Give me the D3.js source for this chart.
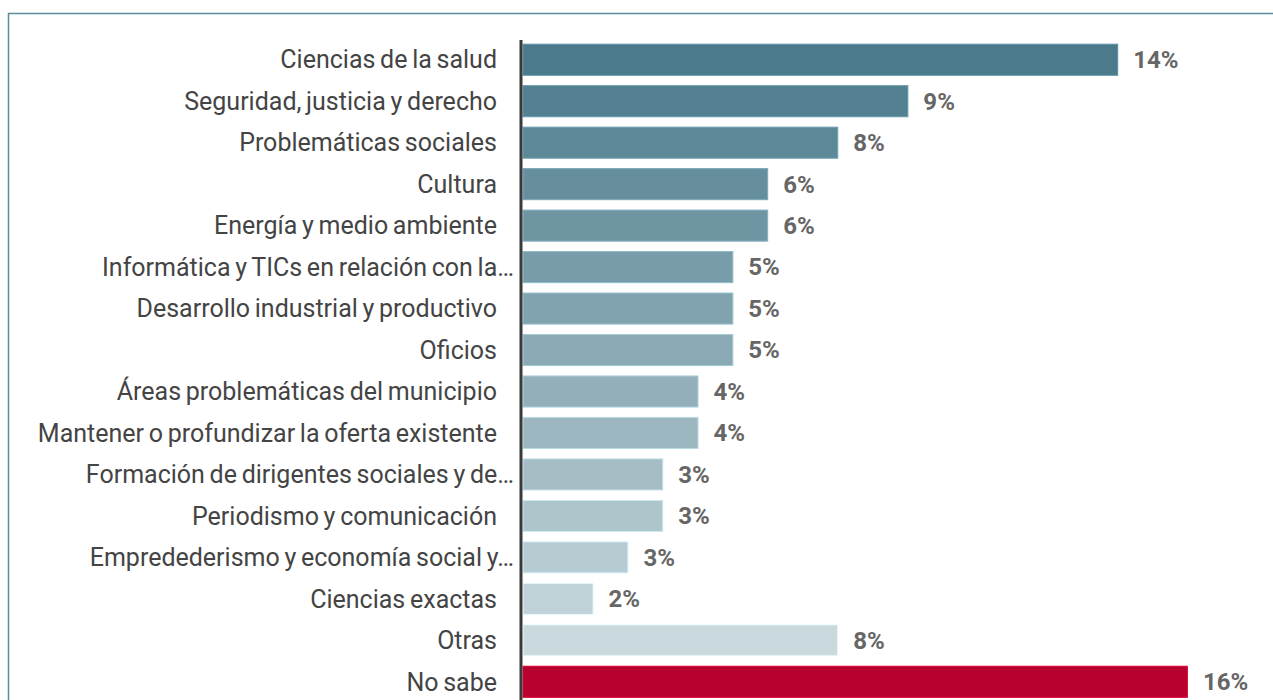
<!DOCTYPE html>
<html>
<head>
<meta charset="utf-8">
<script src="https://cdn.jsdelivr.net/npm/d3@7"></script>
<style>
  body { margin: 0; background: #fff; }
  text { font-family: Roboto, "Noto Sans", sans-serif; }
</style>
</head>
<body>
<script>
// categories, top to bottom
const categories = [
    "Ciencias de la salud",
    "Seguridad, justicia y derecho",
    "Problemáticas sociales",
    "Cultura",
    "Energía y medio ambiente",
    "Informática y TICs en relación con la…",
    "Desarrollo industrial y productivo",
    "Oficios",
    "Áreas problemáticas del municipio",
    "Mantener o profundizar la oferta existente",
    "Formación de dirigentes sociales y de…",
    "Periodismo y comunicación",
    "Empredederismo y economía social y…",
    "Ciencias exactas",
    "Otras",
    "No sabe"
]
// share of answers, in percent
const values = [14.17, 9.17, 7.5, 5.83, 5.83, 5.0, 5.0, 5.0, 4.17, 4.17, 3.33, 3.33, 2.5, 1.67, 7.5, 15.83]

const width = 1273, height = 700

const svg = d3.select("body").append("svg")
    .attr("width", width)
    .attr("height", height)

// frame (only top and left edges are visible)
svg.append("path")
    .attr("d", "M8.5,700 V13.5 H1273")
    .attr("fill", "none")
    .attr("stroke", "#5a8c9c")
    .attr("stroke-width", 1.5)

const x = d3.scaleLinear()
    .domain([0, 16])
    .range([523, 523 + 16 * 41.97])

const y = d3.scaleBand()
    .domain(categories)
    .range([39, 39 + 41.47 * categories.length])
    .paddingInner(0.25)
    .paddingOuter(0.125)

const shade = d3.scaleLinear()
    .domain([0, categories.length - 2])
    .range(["#4b7a8b", "#c9d9de"])
    .interpolate(d3.interpolateRgb)

const color = (d, i) => d === "No sabe" ? "#b8002e" : shade(i)

svg.selectAll("rect.bar")
    .data(categories)
    .enter().append("rect")
    .attr("class", "bar")
    .attr("x", x(0))
    .attr("y", d => y(d))
    .attr("width", (d, i) => x(values[i]) - x(0))
    .attr("height", y.bandwidth())
    .attr("fill", color)
    .attr("stroke", (d, i) => d3.color(color(d, i)).brighter(0.5))
    .attr("stroke-width", 1)

// category labels
svg.selectAll("text.cat")
    .data(categories)
    .enter().append("text")
    .attr("class", "cat")
    .attr("x", d => d.endsWith("…") ? 514 : 497)
    .attr("y", d => y(d) + y.bandwidth() / 2)
    .attr("dy", "0.35em")
    .attr("text-anchor", "end")
    .attr("font-size", 25)
    .attr("word-spacing", -1.5)
    .attr("fill", "#444")
    .text(d => d)

// value labels
svg.selectAll("text.val")
    .data(categories)
    .enter().append("text")
    .attr("class", "val")
    .attr("x", (d, i) => x(values[i]) + 15.5)
    .attr("y", d => y(d) + y.bandwidth() / 2)
    .attr("dy", "0.35em")
    .attr("font-size", 24)
    .attr("font-weight", "bold")
    .attr("fill", "#666")
    .text((d, i) => Math.round(values[i]) + "%")

// vertical axis line
svg.append("line")
    .attr("x1", 521).attr("x2", 521)
    .attr("y1", 40).attr("y2", height)
    .attr("stroke", "#3a3a3a")
    .attr("stroke-width", 3)
</script>
</body>
</html>
